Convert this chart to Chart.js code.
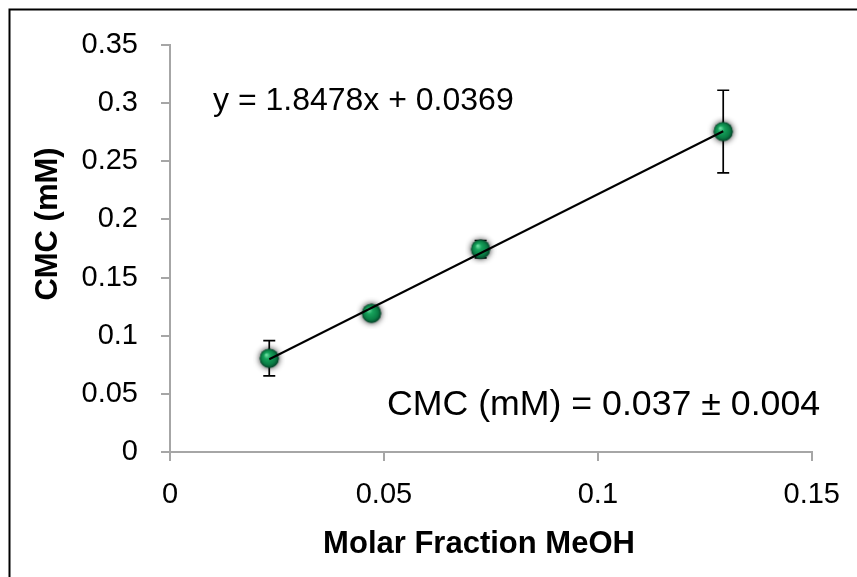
<!DOCTYPE html>
<html><head><meta charset="utf-8">
<script src="https://cdn.jsdelivr.net/npm/chart.js@4.4.0/dist/chart.umd.min.js"></script>
<style>html,body{margin:0;padding:0;background:#fff;overflow:hidden}#wrap{width:857px;height:577px;position:relative}</style>
</head><body><div id="wrap"><canvas id="c" width="857" height="577"></canvas></div>
<script>
// ---- data ----
const xValues = [0.0232, 0.0471, 0.0726, 0.1293];   // molar fraction MeOH
const yValues = [0.0806, 0.1193, 0.1744, 0.2756];   // CMC (mM)
const yErrors = [0.0152, 0.0030, 0.0075, 0.0355];   // +/- error
const xTickLabels = ['0', '0.05', '0.1', '0.15'];
const yTickLabels = ['0', '0.05', '0.1', '0.15', '0.2', '0.25', '0.3', '0.35'];
const trendSlope = 1.8478;
const trendIntercept = 0.0369;
const xTitle = 'Molar Fraction MeOH';
const yTitle = 'CMC (mM)';
const equationText = 'y = 1.8478x + 0.0369';
const cmcText = 'CMC (mM) = 0.037 \u00B1 0.004';

const FONT = '"Liberation Sans", Arial, sans-serif';

// marker sprite: shaded green sphere with dark halo
function makeSprite() {
  const s = 32, c = document.createElement('canvas');
  c.width = s; c.height = s;
  const g = c.getContext('2d');
  const cx = s / 2, cy = s / 2, r = 9.5;
  g.save();
  g.shadowColor = 'rgba(0,0,0,0.9)';
  g.shadowBlur = 6;
  g.beginPath(); g.arc(cx, cy, r, 0, Math.PI * 2);
  g.fillStyle = '#064d2a'; g.fill();
  g.restore();
  const grad = g.createRadialGradient(cx - 3, cy - 3.5, 0.5, cx, cy, r);
  grad.addColorStop(0, '#6fe0a4');
  grad.addColorStop(0.3, '#17a35c');
  grad.addColorStop(0.75, '#0a7d44');
  grad.addColorStop(1, '#05452a');
  g.beginPath(); g.arc(cx, cy, r, 0, Math.PI * 2);
  g.fillStyle = grad; g.fill();
  return c;
}
const sprite = makeSprite();

const pointsData = xValues.map((x, i) => ({ x: x, y: yValues[i] }));
const trendX = [xValues[0], xValues[xValues.length - 1]];
const trendData = trendX.map(x => ({ x: x, y: trendSlope * x + trendIntercept }));

const decor = {
  id: 'decor',
  beforeDraw(chart) {
    const c = chart.ctx;
    c.save();
    c.fillStyle = '#fff';
    c.fillRect(0, 0, chart.width, chart.height);
    c.strokeStyle = '#000';
    c.lineWidth = 2;
    c.strokeRect(9.5, 9.5, chart.width + 40, chart.height + 40);
    c.restore();
  },
  beforeDatasetDraw(chart, args) {
    if (args.index !== 0) return;
    const c = chart.ctx, xs = chart.scales.x, ys = chart.scales.y;
    c.save();
    c.strokeStyle = '#000';
    c.lineWidth = 1.7;
    xValues.forEach((x, i) => {
      const px = xs.getPixelForValue(x);
      const top = ys.getPixelForValue(yValues[i] + yErrors[i]);
      const bot = ys.getPixelForValue(yValues[i] - yErrors[i]);
      c.beginPath();
      c.moveTo(px, top); c.lineTo(px, bot);
      c.moveTo(px - 6, top); c.lineTo(px + 6, top);
      c.moveTo(px - 6, bot); c.lineTo(px + 6, bot);
      c.stroke();
    });
    c.restore();
  },
  afterDraw(chart) {
    const c = chart.ctx;
    c.save();
    c.fillStyle = '#000';
    // axis titles
    c.font = 'bold 31px ' + FONT;
    c.textAlign = 'center';
    c.textBaseline = 'alphabetic';
    c.fillText(xTitle, 479, 553);
    c.save();
    c.translate(57, 224);
    c.rotate(-Math.PI / 2);
    c.fillText(yTitle, 0, 0);
    c.restore();
    // annotations
    c.textAlign = 'left';
    c.font = '32px ' + FONT;
    c.fillText(equationText, 213, 110);
    c.font = '35.7px ' + FONT;
    c.fillText(cmcText, 387, 415);
    c.restore();
  }
};

new Chart(document.getElementById('c'), {
  type: 'scatter',
  data: {
    datasets: [
      {
        label: 'CMC',
        data: pointsData,
        pointStyle: sprite,
        pointRadius: 10,
        showLine: false,
        order: 1
      },
      {
        label: 'Linear fit',
        type: 'line',
        data: trendData,
        borderColor: '#000',
        borderWidth: 2,
        pointRadius: 0,
        fill: false,
        order: 0
      }
    ]
  },
  options: {
    responsive: false,
    animation: false,
    events: [],
    layout: { padding: { top: 45, right: 45, left: 0, bottom: 0 } },
    plugins: { legend: { display: false }, tooltip: { enabled: false } },
    scales: {
      x: {
        type: 'linear', min: 0, max: 0.15,
        afterFit: s => { s.height = 125; },
        afterBuildTicks: s => { s.ticks = xTickLabels.map(t => ({ value: parseFloat(t) })); },
        ticks: {
          callback: (v, i) => xTickLabels[i],
          font: { family: FONT, size: 29 }, color: '#000', padding: 17, maxRotation: 0
        },
        grid: { drawOnChartArea: false, tickLength: 9, color: '#a6a6a6', lineWidth: 2 },
        border: { color: '#a6a6a6', width: 2 }
      },
      y: {
        type: 'linear', min: 0, max: 0.35,
        afterFit: s => { s.width = 170; },
        afterBuildTicks: s => { s.ticks = yTickLabels.map(t => ({ value: parseFloat(t) })); },
        ticks: {
          callback: (v, i) => yTickLabels[i],
          font: { family: FONT, size: 29 }, color: '#000', padding: 23
        },
        grid: { drawOnChartArea: false, tickLength: 9, color: '#a6a6a6', lineWidth: 2 },
        border: { color: '#a6a6a6', width: 2 }
      }
    }
  },
  plugins: [decor]
});
</script>
</body></html>
